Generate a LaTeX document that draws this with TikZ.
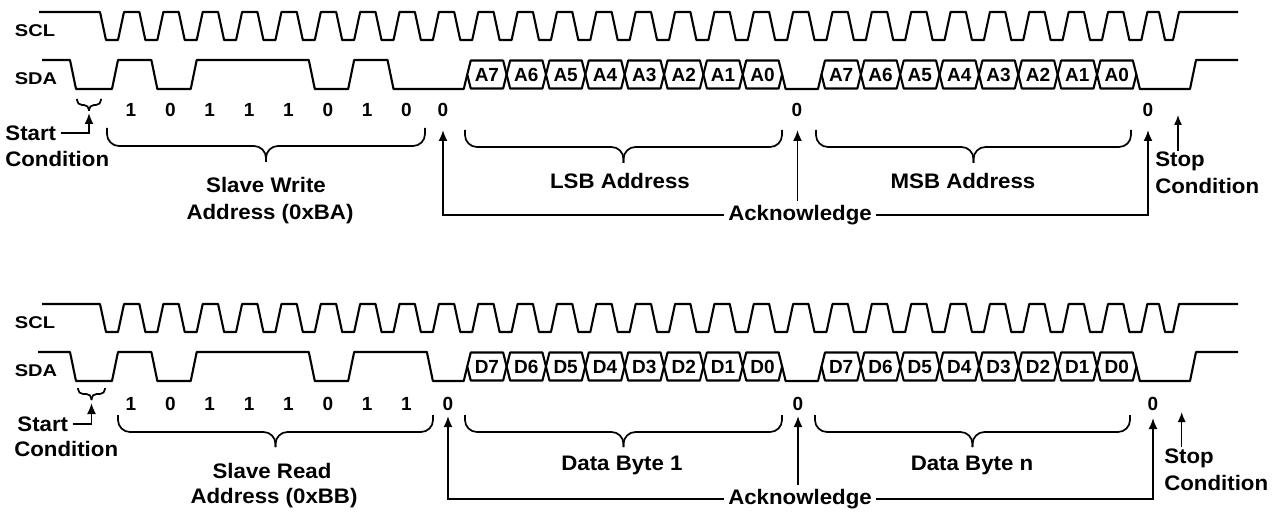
\documentclass[tikz,border=0pt]{standalone}
\usepackage{fontspec}
\setmainfont{Liberation Sans}
\usetikzlibrary{arrows.meta}
\newcommand\mybrace[6]{% x1, x2, yend, yhoriz, ytip, radius
  \draw[bracestyle,rounded corners=#6] (#1,#3) -- (#1,#4) -- ({(#1+#2)/2},#4) -- ({(#1+#2)/2},#5);
  \draw[bracestyle,rounded corners=#6] (#2,#3) -- (#2,#4) -- ({(#1+#2)/2},#4) -- ({(#1+#2)/2},#5);
}
\begin{document}
\begin{tikzpicture}[x=1pt,y=-1pt,
  declare function={B(\k)=112+39.36*\k;},
  wave/.style={line width=2.1pt, line join=round},
  bracestyle/.style={line width=1.7pt},
  arr/.style={line width=1.8pt, -{Latex[length=11pt,width=9pt]}},
  thinarr/.style={line width=1.3pt, -{Latex[length=10pt,width=8pt]}},
  lbl/.style={font=\fontsize{21}{25}\selectfont\bfseries, inner sep=1pt, xscale=1.06},
  sig/.style={font=\fontsize{17}{19}\selectfont\bfseries, inner sep=0pt, xscale=1.18},
  bitlbl/.style={font=\fontsize{19}{21}\selectfont\bfseries, inner sep=0pt, text height=13.6pt, text depth=0pt},
  boxtxt/.style={font=\fontsize{19}{21}\selectfont\bfseries, inner sep=0pt, text height=13.6pt, text depth=0pt}]
\fill[white] (0,0) rectangle (1282,513);
\useasboundingbox (0,0) rectangle (1282,513);

% ================= TOP (write) =================
\node[sig] (scl1) at (35,30.5) {SCL};
\node[sig] (sda1) at (36,78.5) {SDA};
\draw[wave] (39,12) foreach \k in {0,...,26} { -- ({B(\k)-12},12) -- ({B(\k)-6},40) -- ({B(\k)+6},40) -- ({B(\k)+12},12) } -- (1159,12) -- (1165,40) -- (1173,40) -- (1179,12) -- (1238,12);
\draw[wave] (42,60) -- (70,60) -- (76,89) -- ({B(0)},89) -- ({B(0)+6},60) -- ({B(1)},60) -- ({B(1)+6},89) -- ({B(2)},89) -- ({B(2)+6},60) -- ({B(5)},60) -- ({B(5)+6},89) -- ({B(6)},89) -- ({B(6)+6},60) -- ({B(7)},60) -- ({B(7)+6},89) -- ({B(9)-2.5},89) -- ({B(9)+1},74.5);
\draw[wave] ({B(17)+1},74.5) -- ({B(17)+4.5},89) -- ({B(18)-2.5},89) -- ({B(18)+1},74.5);
\draw[wave] ({B(26)+1},74.5) -- ({B(26)+4.5},89) -- (1190,89) -- (1196,60) -- (1238,60);
\foreach \k in {9,10,11,12,13,14,15,16,18,19,20,21,22,23,24,25}
  \draw[wave] ({B(\k)+1},74.5) -- ({B(\k)+4.5},60.5) -- ({B(\k+1)-2.5},60.5) -- ({B(\k+1)+1},74.5) -- ({B(\k+1)-2.5},88.5) -- ({B(\k)+4.5},88.5) -- cycle;
\foreach \k/\t in {9/7,10/6,11/5,12/4,13/3,14/2,15/1,16/0,18/7,19/6,20/5,21/4,22/3,23/2,24/1,25/0}
  \node[boxtxt] (ta\k) at ({(B(\k)+B(\k+1))/2+1},74.5) {A\t};
\foreach \k/\v in {0/1,1/0,2/1,3/1,4/1,5/0,6/1,7/0}
  \node[bitlbl] (da\k) at ({B(\k)+19},110) {\v};
\node[bitlbl] (za1) at (443,110) {0};
\node[bitlbl] (za2) at (797,110) {0};
\node[bitlbl] (za3) at (1148,110) {0};

\mybrace{77}{101}{99}{105}{111}{5pt}
\node[lbl,anchor=west,inner sep=4pt] (start1) at (1,133) {Start};
\node[lbl,anchor=west] (cond1) at (4,159) {Condition};
\coordinate (sbt1) at (89,113);
\draw[arr] (start1.east) -| (sbt1);

\mybrace{107}{425}{128}{146}{162}{12pt}
\mybrace{465}{782}{130}{147}{163}{12pt}
\mybrace{816}{1131}{130}{147}{163}{12pt}
\node[lbl] (sw1) at (266,185) {Slave Write};
\node[lbl] (ad1) at (270,214) {Address (0xBA)};
\node[lbl] (lsb1) at (620,181) {LSB Address};
\node[lbl] (msb1) at (963,181) {MSB Address};

\node[lbl,inner sep=4pt] (ack1) at (800,215) {Acknowledge};
\coordinate (k1) at (443,130);
\coordinate (k2) at (797.5,130);
\coordinate (k3) at (1148,130);
\draw[arr] (ack1.west) -| (k1);
\draw[arr] (ack1.east) -| (k3);
\draw[arr] (ack1.north -| k2) -- (k2);

\node[lbl,anchor=west] (stop1) at (1154,161.5) {Stop};
\node[lbl,anchor=west] (cond3) at (1154,185.5) {Condition};
\coordinate (sT1) at (1178,115);
\draw[thinarr] (stop1.north -| sT1) -- (sT1);

% ================= BOTTOM (read) =================
\node[sig] (scl2) at (35,322.5) {SCL};
\node[sig] (sda2) at (36,371) {SDA};
\begin{scope}[yshift=-292pt]
\draw[wave] (42,12) foreach \k in {0,...,26} { -- ({B(\k)-12},12) -- ({B(\k)-6},40) -- ({B(\k)+6},40) -- ({B(\k)+12},12) } -- (1159,12) -- (1165,40) -- (1173,40) -- (1179,12) -- (1238,12);
\draw[wave] (38,60) -- (70,60) -- (76,89) -- ({B(0)},89) -- ({B(0)+6},60) -- ({B(1)},60) -- ({B(1)+6},89) -- ({B(2)},89) -- ({B(2)+6},60) -- ({B(5)},60) -- ({B(5)+6},89) -- ({B(6)},89) -- ({B(6)+6},60) -- ({B(8)},60) -- ({B(8)+6},89) -- ({B(9)-2.5},89) -- ({B(9)+1},74.5);
\draw[wave] ({B(17)+1},74.5) -- ({B(17)+4.5},89) -- ({B(18)-2.5},89) -- ({B(18)+1},74.5);
\draw[wave] ({B(26)+1},74.5) -- ({B(26)+4.5},89) -- (1190,89) -- (1196,60) -- (1238,60);
\foreach \k in {9,10,11,12,13,14,15,16,18,19,20,21,22,23,24,25}
  \draw[wave] ({B(\k)+1},74.5) -- ({B(\k)+4.5},60.5) -- ({B(\k+1)-2.5},60.5) -- ({B(\k+1)+1},74.5) -- ({B(\k+1)-2.5},88.5) -- ({B(\k)+4.5},88.5) -- cycle;
\foreach \k/\t in {9/7,10/6,11/5,12/4,13/3,14/2,15/1,16/0,18/7,19/6,20/5,21/4,22/3,23/2,24/1,25/0}
  \node[boxtxt] (td\k) at ({(B(\k)+B(\k+1))/2+1},74.5) {D\t};
\end{scope}
\foreach \k/\v in {0/1,1/0,2/1,3/1,4/1,5/0,6/1,7/1}
  \node[bitlbl] (dd\k) at ({B(\k)+19},404) {\v};
\node[bitlbl] (zd1) at (448,404) {0};
\node[bitlbl] (zd2) at (798,404) {0};
\node[bitlbl] (zd3) at (1153,404) {0};

\mybrace{78}{105}{388}{394}{400}{5pt}
\node[lbl,anchor=west,inner sep=4pt] (start2) at (13,424) {Start};
\node[lbl,anchor=west] (cond2) at (13,449) {Condition};
\coordinate (sbt2) at (91.5,403);
\draw[arr] (start2.east) -| (sbt2);

\mybrace{118}{433}{415}{432}{447}{12pt}
\mybrace{465}{782}{415}{432}{447}{12pt}
\mybrace{815}{1130}{415}{432}{447}{12pt}
\node[lbl] (sr2) at (272,471) {Slave Read};
\node[lbl] (ad2) at (274,498) {Address (0xBB)};
\node[lbl] (db1) at (622,465) {Data Byte 1};
\node[lbl] (dbn) at (972,465) {Data Byte n};

\node[lbl,inner sep=4pt] (ack2) at (800,499) {Acknowledge};
\coordinate (k4) at (448,416);
\coordinate (k5) at (798,416);
\coordinate (k6) at (1153,418);
\draw[arr] (ack2.west) -| (k4);
\draw[arr] (ack2.east) -| (k6);
\draw[arr] (ack2.north -| k5) -- (k5);

\node[lbl,anchor=west] (stop2) at (1163,458) {Stop};
\node[lbl,anchor=west] (cond4) at (1163,482.5) {Condition};
\coordinate (sT2) at (1181.7,412);
\draw[thinarr] (stop2.north -| sT2) -- (sT2);
\end{tikzpicture}
\end{document}
